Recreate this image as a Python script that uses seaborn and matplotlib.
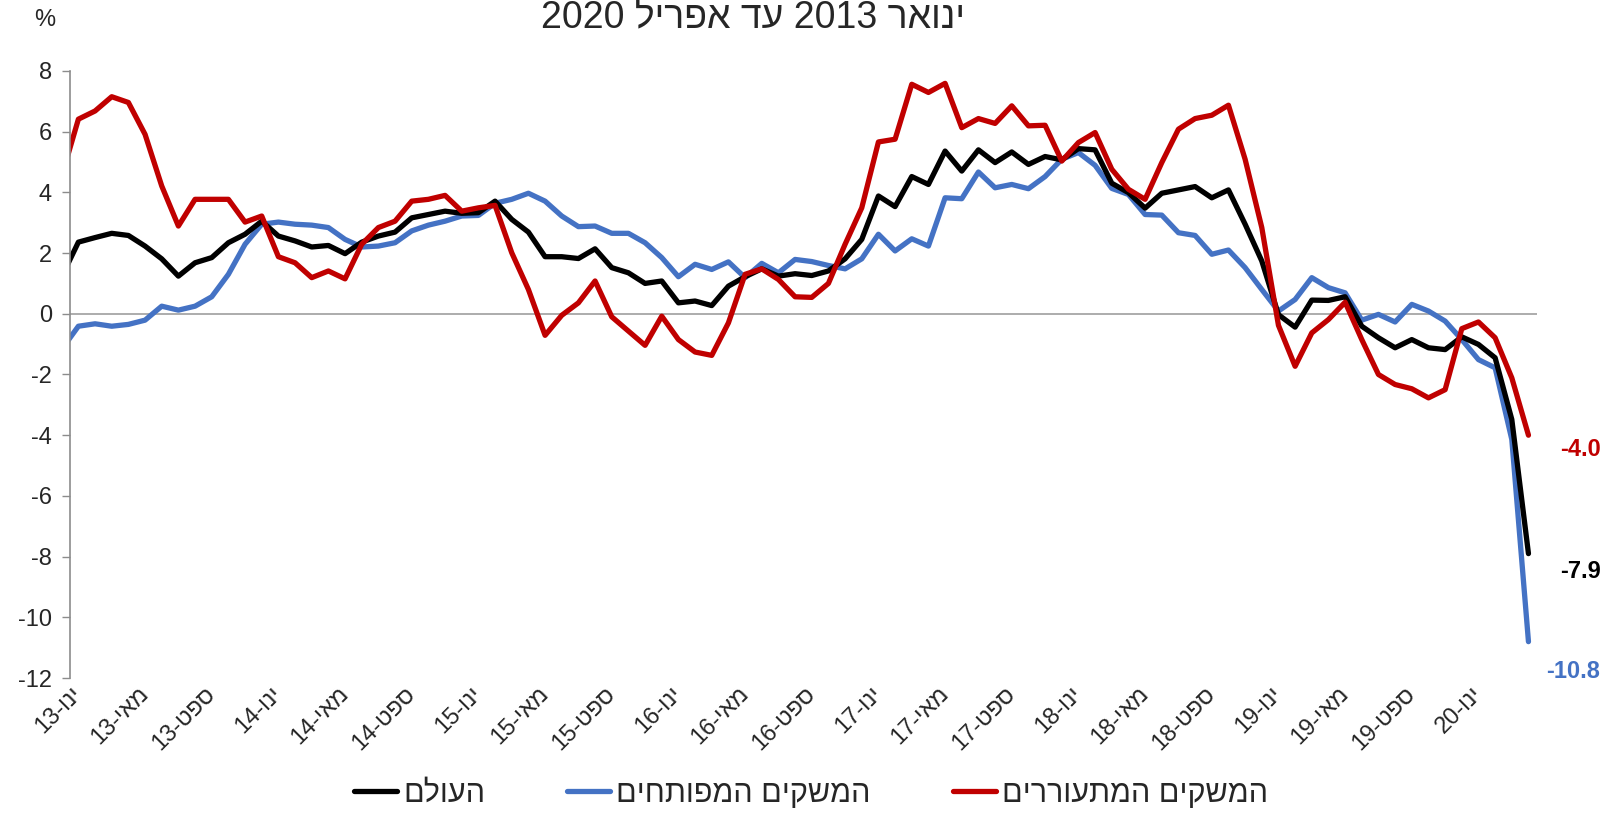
import re
import matplotlib
matplotlib.use('Agg')
import matplotlib.pyplot as plt
import seaborn as sns
import pandas as pd
import numpy as np

# months from Dec-2012 (index -1) to Apr-2020 (index 87)
months = list(range(-1, 88))

world = [1.22,
         2.36, 2.51, 2.65, 2.58, 2.23, 1.81, 1.24, 1.68, 1.85, 2.34, 2.62, 3.05,
         2.56, 2.40, 2.20, 2.25, 1.98, 2.36, 2.56, 2.69, 3.16, 3.27, 3.38, 3.31,
         3.33, 3.71, 3.11, 2.69, 1.88, 1.88, 1.82, 2.14, 1.52, 1.35, 1.00, 1.08,
         0.36, 0.42, 0.27, 0.91, 1.22, 1.48, 1.24, 1.32, 1.26, 1.41, 1.81, 2.45,
         3.88, 3.53, 4.52, 4.26, 5.36, 4.70, 5.40, 4.98, 5.33, 4.92, 5.18, 5.07,
         5.44, 5.40, 4.30, 3.99, 3.48, 3.97, 4.08, 4.19, 3.82, 4.08, 2.95, 1.74,
         -0.03, -0.44, 0.45, 0.44, 0.56, -0.41, -0.79, -1.12, -0.85, -1.12, -1.18, -0.76,
         -1.01, -1.45, -3.48, -7.9]

developed = [-1.17,
             -0.41, -0.33, -0.41, -0.35, -0.21, 0.25, 0.12, 0.25, 0.56, 1.30, 2.29, 2.95,
             3.02, 2.95, 2.92, 2.84, 2.45, 2.20, 2.23, 2.34, 2.73, 2.92, 3.05, 3.22,
             3.24, 3.64, 3.77, 3.97, 3.71, 3.22, 2.87, 2.89, 2.65, 2.65, 2.34, 1.85,
             1.22, 1.63, 1.46, 1.71, 1.19, 1.66, 1.35, 1.79, 1.72, 1.59, 1.48, 1.81,
             2.62, 2.07, 2.47, 2.23, 3.82, 3.79, 4.67, 4.15, 4.26, 4.12, 4.52, 5.09,
             5.31, 4.89, 4.13, 3.93, 3.27, 3.25, 2.67, 2.58, 1.96, 2.10, 1.52, 0.80,
             0.09, 0.47, 1.19, 0.86, 0.69, -0.21, -0.02, -0.27, 0.31, 0.09, -0.24, -0.85,
             -1.51, -1.78, -4.14, -10.8]

emerging = [4.53,
            6.41, 6.68, 7.15, 6.96, 5.91, 4.21, 2.89, 3.77, 3.77, 3.77, 3.02, 3.22,
            1.88, 1.68, 1.19, 1.41, 1.15, 2.29, 2.84, 3.05, 3.71, 3.77, 3.90, 3.38,
            3.49, 3.57, 2.01, 0.80, -0.71, -0.05, 0.36, 1.08, -0.10, -0.57, -1.04, -0.08,
            -0.85, -1.26, -1.37, -0.30, 1.30, 1.48, 1.13, 0.56, 0.54, 1.00, 2.29, 3.49,
            5.66, 5.75, 7.56, 7.29, 7.59, 6.13, 6.43, 6.27, 6.85, 6.19, 6.21, 5.03,
            5.64, 5.97, 4.76, 4.10, 3.77, 4.98, 6.08, 6.43, 6.54, 6.87, 5.09, 2.84,
            -0.38, -1.73, -0.63, -0.19, 0.38, -0.85, -2.00, -2.33, -2.47, -2.77, -2.50, -0.49,
            -0.27, -0.79, -2.11, -4.0]

tick_months = list(range(0, 88, 4))
tick_labels = [f"{m}-{y}" for y in range(13, 21) for m in ["ינו", "מאי", "ספט"]][:len(tick_months)]

title = "ינואר 2013 עד אפריל 2020"
names = ["העולם", "המשקים המפותחים", "המשקים המתעוררים"]
colors = ["#000000", "#4472C4", "#C00000"]


def vis(s):
    """matplotlib has no bidi: put Hebrew text into visual order."""
    parts = re.findall(r"\d+|\D+", s)
    return "".join(p if p.isdigit() else p[::-1] for p in reversed(parts))


sns.set_theme(style="white")
plt.rcParams['font.family'] = ['Liberation Sans', 'DejaVu Sans']
plt.rcParams['axes.unicode_minus'] = False

df = pd.DataFrame({"month": months, names[0]: world,
                   names[1]: developed, names[2]: emerging})

fig = plt.figure(figsize=(16.03, 8.15), dpi=100)
ax = fig.add_axes([0.0437, 0.168, 0.915, 0.745])

# draw developed first, then world, emerging on top
for name, col in [(names[1], colors[1]), (names[0], colors[0]), (names[2], colors[2])]:
    sns.lineplot(data=df, x="month", y=name, color=col, lw=3.8, ax=ax,
                 label=vis(name), legend=False)

ax.axhline(0, color="#A6A6A6", lw=1.3, zorder=1)
ax.set_xlim(-0.5, 87.5)
ax.set_ylim(-12, 8)
ax.set_yticks(np.arange(-12, 9, 2))
ax.set_xticks(tick_months)
ax.set_xticklabels([vis(t) for t in tick_labels], rotation=45, ha="right",
                   va="center", rotation_mode="anchor", fontsize=17)
ax.tick_params(axis="x", length=0, pad=9)
ax.tick_params(axis="y", length=6, width=1, color="#8C8C8C", labelsize=17,
               left=True, direction="out", pad=7)
ax.set_xlabel("")
ax.set_ylabel("")
for side in ["top", "right", "bottom"]:
    ax.spines[side].set_visible(False)
ax.spines["left"].set_color("#8C8C8C")
ax.spines["left"].set_linewidth(1.2)

# end-of-series value labels
end_offsets = [(world, colors[0], -18), (developed, colors[1], -30), (emerging, colors[2], -14)]
for vals, col, dy in end_offsets:
    ax.annotate(f"{vals[-1]:.1f}", xy=(months[-1], vals[-1]), xytext=(72, dy),
                textcoords="offset pixels", ha="right", va="center",
                color=col, fontsize=17, fontweight="bold", annotation_clip=False)

fig.text(0.470, 0.9785, vis(title), ha="center", va="center", fontsize=27)
fig.text(0.028, 0.975, "%", ha="center", va="center", fontsize=17)

handles = {l.get_label(): l for l in ax.lines}
order = [vis(n) for n in names]
fig.legend([handles[o] for o in order], order, loc="center",
           bbox_to_anchor=(0.506, 0.026), ncol=3, frameon=False, fontsize=22,
           handlelength=1.4, handletextpad=0.2, columnspacing=2.7)

fig.savefig("out.png", dpi=100)
